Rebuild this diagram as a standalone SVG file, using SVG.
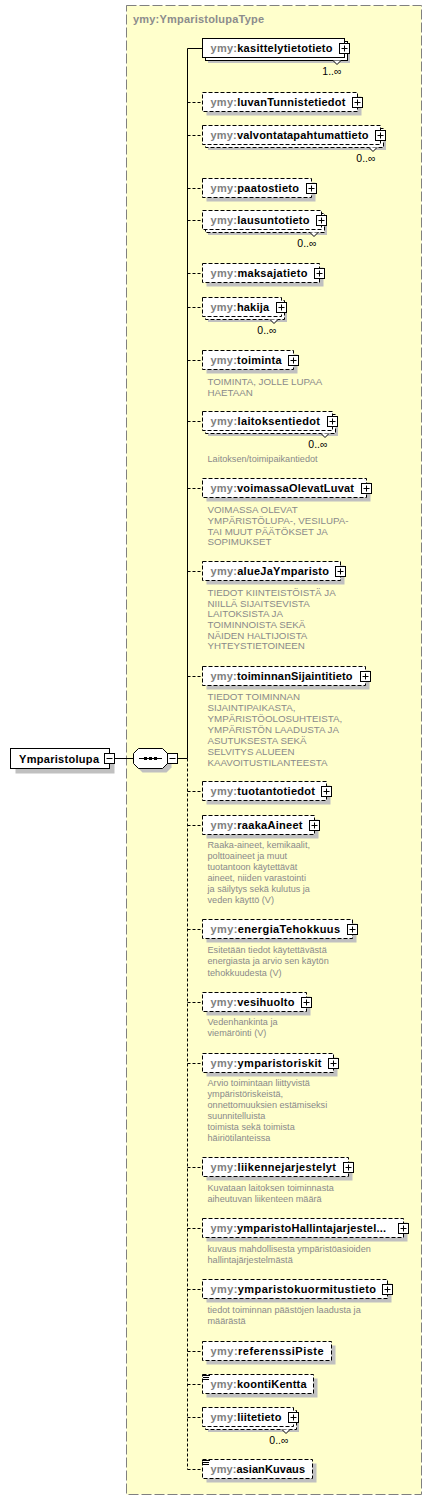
<svg xmlns="http://www.w3.org/2000/svg" xmlns:xlink="http://www.w3.org/1999/xlink" width="432" height="1501" viewBox="0 0 432 1501">
<style>
.t{font-family:"Liberation Sans",Arial,sans-serif;font-size:11px;font-weight:bold}
.p{fill:#808080}
.n{fill:#000}
.ttl{font-family:"Liberation Sans",Arial,sans-serif;font-size:11px;font-weight:bold;fill:#8c8c8c}
.ann{font-family:"Liberation Sans",Arial,sans-serif;font-size:9.15px;fill:#8a8a8a}
.uc{font-size:9.75px}
.mult{font-family:"Liberation Sans",Arial,sans-serif;font-size:10.5px;fill:#000;text-anchor:end}
.box{fill:#fff;stroke:#000;stroke-width:1}
.opt{stroke-dasharray:4 2}
.sh{fill:#c0c0c0}
.ln{stroke:#000;stroke-width:1;fill:none}
.dl{stroke-dasharray:3 2}
.notch{fill:#fff;stroke:#000;stroke-width:1}
</style>
<defs>
<g id="plus"><rect x="-5" y="-5" width="10" height="10" fill="#fff" stroke="#000"/><path d="M-3 0H3M0 -3V3" stroke="#000" fill="none"/></g>
<g id="minus"><rect x="-5" y="-5" width="10" height="10" fill="#fff" stroke="#000"/><path d="M-3 0H3" stroke="#000" fill="none"/></g>
<g id="lines"><path d="M202 0.5H210M203 2.5H209M203 4.5H209" stroke="#000" fill="none"/></g>
</defs>

<g id="YmparistolupaType">
<rect x="126.5" y="5.5" width="295" height="1489" fill="#ffffcc" stroke="#808080" stroke-dasharray="10 3"/>
<text class="ttl" x="133" y="23" textLength="131">ymy:YmparistolupaType</text>
</g>

<g id="connectors">
<path class="ln" d="M114.5 758.5H133.5M177.5 758.5H187.5"/>
<path class="ln" d="M187.5 48.5V758.5M187.5 48.5H202.5"/>
<path class="ln dl" d="M187.5 758.5V1469.5"/>
<path class="ln dl" d="M187.5 102.5H202.5M187.5 135.5H202.5M187.5 188.5H202.5M187.5 220.5H202.5M187.5 273.5H202.5M187.5 307.5H202.5M187.5 360.5H202.5M187.5 421.5H202.5M187.5 488.5H202.5M187.5 571.5H202.5M187.5 676.5H202.5M187.5 791.5H202.5M187.5 825.5H202.5M187.5 929.5H202.5M187.5 1002.5H202.5M187.5 1063.5H202.5M187.5 1167.5H202.5M187.5 1228.5H202.5M187.5 1289.5H202.5M187.5 1351.5H202.5M187.5 1384.5H202.5M187.5 1417.5H202.5M187.5 1469.5H202.5"/>
</g>

<g id="Ymparistolupa">
<rect class="sh" x="15.5" y="753.5" width="99" height="20"/>
<rect class="box" x="10.5" y="748.5" width="99" height="20"/>
<text class="t n" x="19" y="763" textLength="80">Ymparistolupa</text>
<use href="#minus" x="109.5" y="758.5"/>
</g>

<g id="sequence">
<path class="sh" d="M142.5 752.5H166.5L171.5 757.5V767.5L166.5 772.5H142.5L137.5 767.5V757.5Z"/>
<path class="box" d="M138.5 748.5H162.5L167.5 753.5V763.5L162.5 768.5H138.5L133.5 763.5V753.5Z"/>
<path class="ln" d="M139 758.5H162"/>
<rect x="144" y="757" width="3" height="3" fill="#000"/>
<rect x="149" y="757" width="3" height="3" fill="#000"/>
<rect x="154" y="757" width="3" height="3" fill="#000"/>
<use href="#minus" x="172.5" y="758.5"/>
</g>

<g id="kasittelytietotieto">
<rect class="sh" x="208" y="44" width="142" height="19"/>
<rect class="box" x="205.5" y="41.5" width="142" height="19"/>
<rect class="box" x="202.5" y="38.5" width="142" height="19"/>
<path class="notch" d="M333 60.5L337 64.5L341 60.5"/>
<text class="t" x="210.5" y="52" textLength="122"><tspan class="p">ymy:</tspan><tspan class="n">kasittelytietotieto</tspan></text>
<use href="#plus" x="344.5" y="48.5"/>
<text class="mult" x="341.5" y="75">1..∞</text>
</g>

<g id="luvanTunnistetiedot">
<rect class="sh" x="206.5" y="96.5" width="155" height="19"/>
<rect class="box opt" x="202.5" y="92.5" width="155" height="19"/>
<text class="t" x="210.5" y="106" textLength="135"><tspan class="p">ymy:</tspan><tspan class="n">luvanTunnistetiedot</tspan></text>
<use href="#plus" x="357.5" y="102.5"/>
</g>

<g id="valvontatapahtumattieto">
<rect class="sh" x="208" y="131" width="178" height="19"/>
<rect class="box opt" x="205.5" y="128.5" width="178" height="19"/>
<rect class="box opt" x="202.5" y="125.5" width="178" height="19"/>
<path class="notch" d="M369 147.5L373 151.5L377 147.5"/>
<text class="t" x="210.5" y="139" textLength="158"><tspan class="p">ymy:</tspan><tspan class="n">valvontatapahtumattieto</tspan></text>
<use href="#plus" x="380.5" y="135.5"/>
<text class="mult" x="375.5" y="162">0..∞</text>
</g>

<g id="paatostieto">
<rect class="sh" x="206.5" y="182.5" width="109" height="19"/>
<rect class="box opt" x="202.5" y="178.5" width="109" height="19"/>
<text class="t" x="210.5" y="192" textLength="88.5"><tspan class="p">ymy:</tspan><tspan class="n">paatostieto</tspan></text>
<use href="#plus" x="311.5" y="188.5"/>
</g>

<g id="lausuntotieto">
<rect class="sh" x="208" y="216" width="119" height="19"/>
<rect class="box opt" x="205.5" y="213.5" width="119" height="19"/>
<rect class="box opt" x="202.5" y="210.5" width="119" height="19"/>
<path class="notch" d="M310 232.5L314 236.5L318 232.5"/>
<text class="t" x="210.5" y="224" textLength="99"><tspan class="p">ymy:</tspan><tspan class="n">lausuntotieto</tspan></text>
<use href="#plus" x="321.5" y="220.5"/>
<text class="mult" x="316.5" y="247">0..∞</text>
</g>

<g id="maksajatieto">
<rect class="sh" x="206.5" y="267.5" width="117" height="19"/>
<rect class="box opt" x="202.5" y="263.5" width="117" height="19"/>
<text class="t" x="210.5" y="277" textLength="97"><tspan class="p">ymy:</tspan><tspan class="n">maksajatieto</tspan></text>
<use href="#plus" x="319.5" y="273.5"/>
</g>

<g id="hakija">
<rect class="sh" x="208" y="303" width="79" height="19"/>
<rect class="box opt" x="205.5" y="300.5" width="79" height="19"/>
<rect class="box opt" x="202.5" y="297.5" width="79" height="19"/>
<path class="notch" d="M270 319.5L274 323.5L278 319.5"/>
<text class="t" x="210.5" y="311" textLength="58.5"><tspan class="p">ymy:</tspan><tspan class="n">hakija</tspan></text>
<use href="#plus" x="281.5" y="307.5"/>
<text class="mult" x="276.5" y="334">0..∞</text>
</g>

<g id="toiminta">
<rect class="sh" x="206.5" y="354.5" width="91" height="19"/>
<rect class="box opt" x="202.5" y="350.5" width="91" height="19"/>
<text class="t" x="210.5" y="364" textLength="71"><tspan class="p">ymy:</tspan><tspan class="n">toiminta</tspan></text>
<use href="#plus" x="293.5" y="360.5"/>
<text class="ann uc" x="207.5" y="385">TOIMINTA, JOLLE LUPAA</text>
<text class="ann uc" x="207.5" y="396">HAETAAN</text>
</g>

<g id="laitoksentiedot">
<rect class="sh" x="208" y="417" width="130" height="19"/>
<rect class="box opt" x="205.5" y="414.5" width="130" height="19"/>
<rect class="box opt" x="202.5" y="411.5" width="130" height="19"/>
<path class="notch" d="M321 433.5L325 437.5L329 433.5"/>
<text class="t" x="210.5" y="425" textLength="109.5"><tspan class="p">ymy:</tspan><tspan class="n">laitoksentiedot</tspan></text>
<use href="#plus" x="332.5" y="421.5"/>
<text class="mult" x="327.5" y="448">0..∞</text>
<text class="ann" x="207.5" y="461.5">Laitoksen/toimipaikantiedot</text>
</g>

<g id="voimassaOlevatLuvat">
<rect class="sh" x="206.5" y="482.5" width="164" height="19"/>
<rect class="box opt" x="202.5" y="478.5" width="164" height="19"/>
<text class="t" x="210.5" y="492" textLength="143.5"><tspan class="p">ymy:</tspan><tspan class="n">voimassaOlevatLuvat</tspan></text>
<use href="#plus" x="366.5" y="488.5"/>
<text class="ann uc" x="207.5" y="513.3">VOIMASSA OLEVAT</text>
<text class="ann uc" x="207.5" y="524">YMPÄRISTÖLUPA-, VESILUPA-</text>
<text class="ann uc" x="207.5" y="534.7">TAI MUUT PÄÄTÖKSET JA</text>
<text class="ann uc" x="207.5" y="545.3">SOPIMUKSET</text>
</g>

<g id="alueJaYmparisto">
<rect class="sh" x="206.5" y="565.5" width="138" height="19"/>
<rect class="box opt" x="202.5" y="561.5" width="138" height="19"/>
<text class="t" x="210.5" y="575" textLength="118.5"><tspan class="p">ymy:</tspan><tspan class="n">alueJaYmparisto</tspan></text>
<use href="#plus" x="340.5" y="571.5"/>
<text class="ann uc" x="207.5" y="596">TIEDOT KIINTEISTÖISTÄ JA</text>
<text class="ann uc" x="207.5" y="606.7">NIILLÄ SIJAITSEVISTA</text>
<text class="ann uc" x="207.5" y="617.3">LAITOKSISTA JA</text>
<text class="ann uc" x="207.5" y="628">TOIMINNOISTA SEKÄ</text>
<text class="ann uc" x="207.5" y="638.7">NÄIDEN HALTIJOISTA</text>
<text class="ann uc" x="207.5" y="649.3">YHTEYSTIETOINEEN</text>
</g>

<g id="toiminnanSijaintitieto">
<rect class="sh" x="206.5" y="670.5" width="163" height="19"/>
<rect class="box opt" x="202.5" y="666.5" width="163" height="19"/>
<text class="t" x="210.5" y="680" textLength="142"><tspan class="p">ymy:</tspan><tspan class="n">toiminnanSijaintitieto</tspan></text>
<use href="#plus" x="365.5" y="676.5"/>
<text class="ann uc" x="207.5" y="700">TIEDOT TOIMINNAN</text>
<text class="ann uc" x="207.5" y="711">SIJAINTIPAIKASTA,</text>
<text class="ann uc" x="207.5" y="722">YMPÄRISTÖOLOSUHTEISTA,</text>
<text class="ann uc" x="207.5" y="733">YMPÄRISTÖN LAADUSTA JA</text>
<text class="ann uc" x="207.5" y="744">ASUTUKSESTA SEKÄ</text>
<text class="ann uc" x="207.5" y="755">SELVITYS ALUEEN</text>
<text class="ann uc" x="207.5" y="766">KAAVOITUSTILANTEESTA</text>
</g>

<g id="tuotantotiedot">
<rect class="sh" x="206.5" y="785.5" width="124" height="19"/>
<rect class="box opt" x="202.5" y="781.5" width="124" height="19"/>
<text class="t" x="210.5" y="795" textLength="104.5"><tspan class="p">ymy:</tspan><tspan class="n">tuotantotiedot</tspan></text>
<use href="#plus" x="326.5" y="791.5"/>
</g>

<g id="raakaAineet">
<rect class="sh" x="206.5" y="819.5" width="112" height="19"/>
<rect class="box opt" x="202.5" y="815.5" width="112" height="19"/>
<text class="t" x="210.5" y="829" textLength="92"><tspan class="p">ymy:</tspan><tspan class="n">raakaAineet</tspan></text>
<use href="#plus" x="314.5" y="825.5"/>
<text class="ann" x="207.5" y="848.3">Raaka-aineet, kemikaalit,</text>
<text class="ann" x="207.5" y="859.3">polttoaineet ja muut</text>
<text class="ann" x="207.5" y="870.3">tuotantoon käytettävät</text>
<text class="ann" x="207.5" y="881.3">aineet, niiden varastointi</text>
<text class="ann" x="207.5" y="892.3">ja säilytys sekä kulutus ja</text>
<text class="ann" x="207.5" y="903.3">veden käyttö (V)</text>
</g>

<g id="energiaTehokkuus">
<rect class="sh" x="206.5" y="923.5" width="150" height="19"/>
<rect class="box opt" x="202.5" y="919.5" width="150" height="19"/>
<text class="t" x="210.5" y="933" textLength="129.5"><tspan class="p">ymy:</tspan><tspan class="n">energiaTehokkuus</tspan></text>
<use href="#plus" x="352.5" y="929.5"/>
<text class="ann" x="207.5" y="953.3">Esitetään tiedot käytettävästä</text>
<text class="ann" x="207.5" y="964.3">energiasta ja arvio sen käytön</text>
<text class="ann" x="207.5" y="975.5">tehokkuudesta (V)</text>
</g>

<g id="vesihuolto">
<rect class="sh" x="206.5" y="996.5" width="104" height="19"/>
<rect class="box opt" x="202.5" y="992.5" width="104" height="19"/>
<text class="t" x="210.5" y="1006" textLength="84"><tspan class="p">ymy:</tspan><tspan class="n">vesihuolto</tspan></text>
<use href="#plus" x="306.5" y="1002.5"/>
<text class="ann" x="207.5" y="1025">Vedenhankinta ja</text>
<text class="ann" x="207.5" y="1036">viemäröinti (V)</text>
</g>

<g id="ymparistoriskit">
<rect class="sh" x="206.5" y="1057.5" width="131" height="19"/>
<rect class="box opt" x="202.5" y="1053.5" width="131" height="19"/>
<text class="t" x="210.5" y="1067" textLength="111"><tspan class="p">ymy:</tspan><tspan class="n">ymparistoriskit</tspan></text>
<use href="#plus" x="333.5" y="1063.5"/>
<text class="ann" x="207.5" y="1086">Arvio toimintaan liittyvistä</text>
<text class="ann" x="207.5" y="1097">ympäristöriskeistä,</text>
<text class="ann" x="207.5" y="1108">onnettomuuksien estämiseksi</text>
<text class="ann" x="207.5" y="1119">suunnitelluista</text>
<text class="ann" x="207.5" y="1130">toimista sekä toimista</text>
<text class="ann" x="207.5" y="1141">häiriötilanteissa</text>
</g>

<g id="liikennejarjestelyt">
<rect class="sh" x="206.5" y="1161.5" width="146" height="19"/>
<rect class="box opt" x="202.5" y="1157.5" width="146" height="19"/>
<text class="t" x="210.5" y="1171" textLength="125.5"><tspan class="p">ymy:</tspan><tspan class="n">liikennejarjestelyt</tspan></text>
<use href="#plus" x="348.5" y="1167.5"/>
<text class="ann" x="207.5" y="1191">Kuvataan laitoksen toiminnasta</text>
<text class="ann" x="207.5" y="1202">aiheutuvan liikenteen määrä</text>
</g>

<g id="ymparistoHallintajarjestelma">
<rect class="sh" x="206.5" y="1222.5" width="201" height="19"/>
<rect class="box opt" x="202.5" y="1218.5" width="201" height="19"/>
<text class="t" x="210.5" y="1232" textLength="175.5"><tspan class="p">ymy:</tspan><tspan class="n">ymparistoHallintajarjestel...</tspan></text>
<use href="#plus" x="403.5" y="1228.5"/>
<text class="ann" x="207.5" y="1252.3">kuvaus mahdollisesta ympäristöasioiden</text>
<text class="ann" x="207.5" y="1263.3">hallintajärjestelmästä</text>
</g>

<g id="ymparistokuormitustieto">
<rect class="sh" x="206.5" y="1283.5" width="185" height="19"/>
<rect class="box opt" x="202.5" y="1279.5" width="185" height="19"/>
<text class="t" x="210.5" y="1293" textLength="165.5"><tspan class="p">ymy:</tspan><tspan class="n">ymparistokuormitustieto</tspan></text>
<use href="#plus" x="387.5" y="1289.5"/>
<text class="ann" x="207.5" y="1313.3">tiedot toiminnan päästöjen laadusta ja</text>
<text class="ann" x="207.5" y="1324.3">määrästä</text>
</g>

<g id="referenssiPiste">
<rect class="sh" x="206.5" y="1345.5" width="129" height="19"/>
<rect class="box opt" x="202.5" y="1341.5" width="129" height="19"/>
<text class="t" x="210.5" y="1355" textLength="113"><tspan class="p">ymy:</tspan><tspan class="n">referenssiPiste</tspan></text>
</g>

<g id="koontiKentta">
<rect class="sh" x="206.5" y="1378.5" width="111" height="19"/>
<rect class="box opt" x="202.5" y="1374.5" width="111" height="19"/>
<use href="#lines" x="0" y="1375"/>
<text class="t" x="210.5" y="1388" textLength="96"><tspan class="p">ymy:</tspan><tspan class="n">koontiKentta</tspan></text>
</g>

<g id="liitetieto">
<rect class="sh" x="208" y="1413" width="91" height="19"/>
<rect class="box opt" x="205.5" y="1410.5" width="91" height="19"/>
<rect class="box opt" x="202.5" y="1407.5" width="91" height="19"/>
<path class="notch" d="M282 1429.5L286 1433.5L290 1429.5"/>
<text class="t" x="210.5" y="1421" textLength="71"><tspan class="p">ymy:</tspan><tspan class="n">liitetieto</tspan></text>
<use href="#plus" x="293.5" y="1417.5"/>
<text class="mult" x="288.5" y="1444">0..∞</text>
</g>

<g id="asianKuvaus">
<rect class="sh" x="206.5" y="1463.5" width="110" height="19"/>
<rect class="box opt" x="202.5" y="1459.5" width="110" height="19"/>
<use href="#lines" x="0" y="1460"/>
<text class="t" x="210.5" y="1473" textLength="94.5"><tspan class="p">ymy:</tspan><tspan class="n">asianKuvaus</tspan></text>
</g>
</svg>
